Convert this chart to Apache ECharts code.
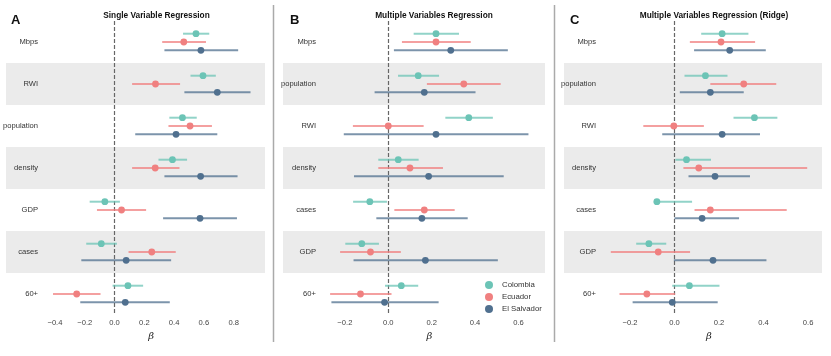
<!DOCTYPE html>
<html lang="en">
<head>
    <meta charset="UTF-8">
    <title>Regression coefficients</title>
    <script src="https://cdn.jsdelivr.net/npm/echarts@6/dist/echarts.min.js"></script>
    <style>
        html, body { margin: 0; padding: 0; background: #fff; }
        #main { width: 831px; height: 356px; }
    </style>
</head>
<body>
    <div id="main"></div>
    <script>
        // categories per panel
        var catsSingle = ['Mbps', 'RWI', 'population', 'density', 'GDP', 'cases', '60+'];
        var catsMulti = ['Mbps', 'population', 'RWI', 'density', 'cases', 'GDP', '60+'];
        var catsRidge = ['Mbps', 'population', 'RWI', 'density', 'cases', 'GDP', '60+'];

        var countries = ['Colombia', 'Ecuador', 'El Salvador'];

        // [low, estimate, high] per category
        var singleColombia = [[0.46, 0.547, 0.636], [0.51, 0.594, 0.68], [0.368, 0.456, 0.552], [0.295, 0.389, 0.487], [-0.167, -0.065, 0.036], [-0.19, -0.089, 0.016], [-0.013, 0.09, 0.192]];
        var singleEcuador = [[0.32, 0.465, 0.614], [0.118, 0.275, 0.44], [0.362, 0.507, 0.654], [0.118, 0.273, 0.436], [-0.118, 0.047, 0.212], [0.094, 0.25, 0.411], [-0.413, -0.254, -0.094]];
        var singleElSalvador = [[0.335, 0.58, 0.83], [0.469, 0.69, 0.913], [0.139, 0.413, 0.69], [0.335, 0.578, 0.826], [0.326, 0.574, 0.822], [-0.223, 0.078, 0.38], [-0.23, 0.072, 0.371]];

        var multiColombia = [[0.117, 0.22, 0.326], [0.045, 0.138, 0.234], [0.263, 0.371, 0.482], [-0.046, 0.046, 0.14], [-0.162, -0.085, -0.006], [-0.198, -0.122, -0.043], [-0.015, 0.06, 0.138]];
        var multiEcuador = [[0.063, 0.22, 0.38], [0.178, 0.348, 0.518], [-0.163, 0.0, 0.163], [-0.046, 0.10, 0.252], [0.028, 0.166, 0.306], [-0.222, -0.082, 0.058], [-0.268, -0.128, 0.015]];
        var multiElSalvador = [[0.026, 0.288, 0.551], [-0.063, 0.166, 0.402], [-0.205, 0.22, 0.646], [-0.158, 0.186, 0.532], [-0.055, 0.155, 0.366], [-0.16, 0.171, 0.505], [-0.262, -0.017, 0.232]];

        var ridgeColombia = [[0.12, 0.214, 0.332], [0.045, 0.139, 0.238], [0.265, 0.359, 0.462], [0.004, 0.054, 0.164], [-0.093, -0.079, 0.079], [-0.172, -0.115, -0.037], [-0.01, 0.067, 0.202]];
        var ridgeEcuador = [[0.069, 0.209, 0.362], [0.161, 0.311, 0.457], [-0.14, -0.003, 0.132], [0.04, 0.109, 0.596], [0.09, 0.161, 0.504], [-0.286, -0.073, 0.07], [-0.247, -0.124, 0.003]];
        var ridgeElSalvador = [[0.088, 0.248, 0.41], [0.024, 0.161, 0.311], [-0.055, 0.214, 0.384], [0.063, 0.182, 0.339], [0.0, 0.124, 0.29], [-0.003, 0.173, 0.413], [-0.188, -0.01, 0.194]];

        // x tick labels
        var ticksSingle = [-0.4, -0.2, 0, 0.2, 0.4, 0.6, 0.8];
        var ticksMulti = [-0.2, 0, 0.2, 0.4, 0.6];
        var ticksRidge = [-0.2, 0, 0.2, 0.4, 0.6];

        var colors = ['#6cc4b6', '#f08080', '#50708f'];
        var FONT = '"Liberation Sans", Arial, sans-serif';

        // layout of the three panels
        var panels = [
            { letter: 'A', title: 'Single Variable Regression', cats: catsSingle, data: [singleColombia, singleEcuador, singleElSalvador], ticks: ticksSingle, min: -0.48, max: 0.97, band: [6, 265], plot: [43, 259], titleX: 151.5, letterX: 6 },
            { letter: 'B', title: 'Multiple Variables Regression', cats: catsMulti, data: [multiColombia, multiEcuador, multiElSalvador], ticks: ticksMulti, min: -0.31, max: 0.69, band: [283, 545], plot: [321, 538], titleX: 429, letterX: 285 },
            { letter: 'C', title: 'Multiple Variables Regression (Ridge)', cats: catsRidge, data: [ridgeColombia, ridgeEcuador, ridgeElSalvador], ticks: ticksRidge, min: -0.33, max: 0.64, band: [564, 822], plot: [601, 817], titleX: 709, letterX: 565 }
        ];

        var TOP = 21, HEIGHT = 294;
        var DODGE = 8.3;

        function fmt(v) {
            var s = Math.abs(v).toFixed(1);
            return v < 0 ? '\u2212' + s : s;
        }

        function makeRender(j) {
            return function (params, api) {
                var cat = api.value(0);
                var a = api.coord([api.value(1), cat]);
                var b = api.coord([api.value(3), cat]);
                var c = api.coord([api.value(2), cat]);
                var dy = (j - 1) * DODGE;
                var col = api.visual('color');
                return {
                    type: 'group',
                    children: [
                        { type: 'line', shape: { x1: a[0], y1: a[1] + dy, x2: b[0], y2: b[1] + dy }, style: { stroke: col, lineWidth: 2, opacity: 0.75 } },
                        { type: 'circle', shape: { cx: c[0], cy: c[1] + dy, r: 3.4 }, style: { fill: col } }
                    ]
                };
            };
        }

        var grid = [], xAxis = [], yAxis = [], series = [], title = [];

        panels.forEach(function (p, k) {
            var bg = k * 2, dg = k * 2 + 1;
            // background band grid
            grid.push({ left: p.band[0], width: p.band[1] - p.band[0], top: TOP, height: HEIGHT });
            xAxis.push({ gridIndex: bg, type: 'value', show: false, min: 0, max: 1 });
            yAxis.push({
                gridIndex: bg, type: 'category', data: p.cats, inverse: true,
                axisLine: { show: false }, axisTick: { show: false }, axisLabel: { show: false },
                splitArea: { show: true, areaStyle: { color: ['rgba(255,255,255,0)', '#ebebeb'] } }
            });
            // data grid
            grid.push({ left: p.plot[0], width: p.plot[1] - p.plot[0], top: TOP, height: HEIGHT });
            xAxis.push({
                gridIndex: dg, type: 'value', min: p.min, max: p.max,
                name: '\u03b2', nameLocation: 'middle', nameGap: 13,
                nameTextStyle: { fontStyle: 'italic', fontSize: 10, color: '#222', fontFamily: 'DejaVu Serif' },
                axisLine: { lineStyle: { color: '#999', width: 1 } },
                axisTick: { customValues: p.ticks, length: 3, lineStyle: { color: '#999' } },
                axisLabel: { customValues: p.ticks, formatter: fmt, fontSize: 7.6, color: '#444', margin: 4, fontFamily: FONT },
                splitLine: { show: false }
            });
            yAxis.push({
                gridIndex: dg, type: 'category', data: p.cats, inverse: true,
                axisLine: { show: false }, axisTick: { show: false },
                axisLabel: { margin: 5, fontSize: 7.6, color: '#333', fontFamily: FONT },
                splitLine: { show: false }
            });

            p.data.forEach(function (arr, j) {
                var s = {
                    type: 'custom',
                    name: countries[j],
                    xAxisIndex: dg,
                    yAxisIndex: dg,
                    itemStyle: { color: colors[j] },
                    encode: { x: [1, 2, 3], y: 0 },
                    data: arr.map(function (t, i) { return [i, t[0], t[1], t[2]]; }),
                    renderItem: makeRender(j),
                    z: 3
                };
                if (j === 0) {
                    s.markLine = {
                        silent: true, symbol: 'none', label: { show: false },
                        lineStyle: { type: [4, 2], color: '#666', width: 1.2 },
                        data: [{ xAxis: 0 }],
                        z: 2
                    };
                }
                series.push(s);
            });

            title.push({ text: p.title, left: p.titleX, top: 7, textAlign: 'center', textStyle: { fontSize: 8.3, fontWeight: 'bold', color: '#111', fontFamily: FONT } });
            title.push({ text: p.letter, left: p.letterX, top: 9, textStyle: { fontSize: 13, fontWeight: 'bold', color: '#111', fontFamily: FONT } });
        });

        var chart = echarts.init(document.getElementById('main'));
        chart.setOption({
            animation: false,
            title: title,
            grid: grid,
            xAxis: xAxis,
            yAxis: yAxis,
            series: series,
            legend: {
                data: countries,
                orient: 'vertical',
                left: 480, top: 276,
                icon: 'circle',
                itemWidth: 8, itemHeight: 8, itemGap: 4,
                textStyle: { fontSize: 7.8, color: '#333', fontFamily: FONT, padding: [0, 0, 0, 4] }
            },
            graphic: [
                { type: 'line', shape: { x1: 273.5, y1: 5, x2: 273.5, y2: 342 }, style: { stroke: '#aaa', lineWidth: 1.5 } },
                { type: 'line', shape: { x1: 554.5, y1: 5, x2: 554.5, y2: 342 }, style: { stroke: '#aaa', lineWidth: 1.5 } }
            ]
        });
    </script>
</body>
</html>
